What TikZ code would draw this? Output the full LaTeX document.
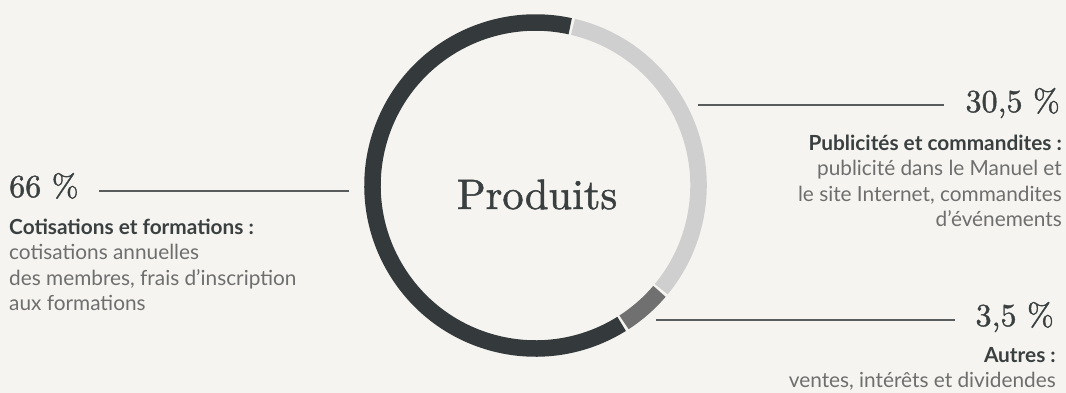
\documentclass[tikz,border=0pt]{standalone}
\usepackage{fontspec}
\setsansfont{Lato}
\newfontfamily\numfont{lmroman10-regular.otf}[FakeBold=1.2]
\usetikzlibrary{calc}
\definecolor{bg}{HTML}{F5F4F0}
\definecolor{ringdark}{HTML}{343A3B}
\definecolor{ringlight}{HTML}{CFCFCF}
\definecolor{ringmid}{HTML}{707070}
\definecolor{inkdark}{HTML}{3A3F40}
\definecolor{inkgray}{HTML}{6E6E6E}
\tikzset{ pct/.style = { inner sep = 0pt % percentage
        , font = \numfont\fontsize{32}{32}\selectfont
        , text = inkdark
        }
        , txt/.style = { inner sep = 0pt % legend text
        , font = \sffamily\fontsize{20.8}{25.5}\selectfont
        , text = inkgray
        }
        }

\begin{document}
\begin{tikzpicture}[x=1pt, y=1pt,
        seg_style/.style={line width=16.5pt},
        lead_style/.style={draw=inkdark!85!white, line width=1.4pt},
        head_style/.style={inner sep=0pt,text=inkdark,font=\numfont\fontsize{42.5}{42.5}\selectfont}]
        \fill [bg] (0,0) rectangle (1066,393);
        \useasboundingbox (0,0) rectangle (1066,393);

        \coordinate (c) at (535.5,207.5);
        \draw [seg_style,ringlight] ($(c)+(76.7:163)$) arc[start angle=76.7, end angle=-39.5, radius=163];
        \draw [seg_style,ringmid] ($(c)+(-40.5:163)$) arc[start angle=-40.5, end angle=-57.1, radius=163];
        \draw [seg_style,ringdark] ($(c)+(-58.1:163)$) arc[start angle=-58.1, end angle=-282.3, radius=163];
        \node [head_style,anchor=base](title) at (537,184) {Produits};

        \node [pct,anchor=base west](n1) at (9,196) {66~\%};
        \node [pct,anchor=base east](n2) at (1060,281) {30,5~\%};
        \node [pct,anchor=base east](n3) at (1054,67) {3,5~\%};

        \coordinate (a1) at (349,202);
        \coordinate (a2) at (698,288);
        \coordinate (a3) at (656,73);
        \draw [lead_style,shorten >=20pt] (a1) -- (n1.east |- a1);
        \draw [lead_style,shorten >=21pt] (a2) -- (n2.west |- a2);
        \draw [lead_style,shorten >=20pt] (a3) -- (n3.west |- a3);

        % base = last line of each block
        \node [txt,anchor=base west,align=left](b1) at (9,82) {{\bfseries\color{inkdark}Cotisations et formations :}\\cotisations annuelles\\des membres, frais d’inscription\\aux formations};
        \node [txt,anchor=base east,align=right](b2) at (1062,166) {{\bfseries\color{inkdark}Publicités et commandites :}\\publicité dans le Manuel et\\le site Internet, commandites\\d’événements};
        \node [txt,anchor=base east,align=right](b3) at (1056,5) {{\bfseries\color{inkdark}Autres :}\\ventes, intérêts et dividendes};
\end{tikzpicture}
\end{document}
